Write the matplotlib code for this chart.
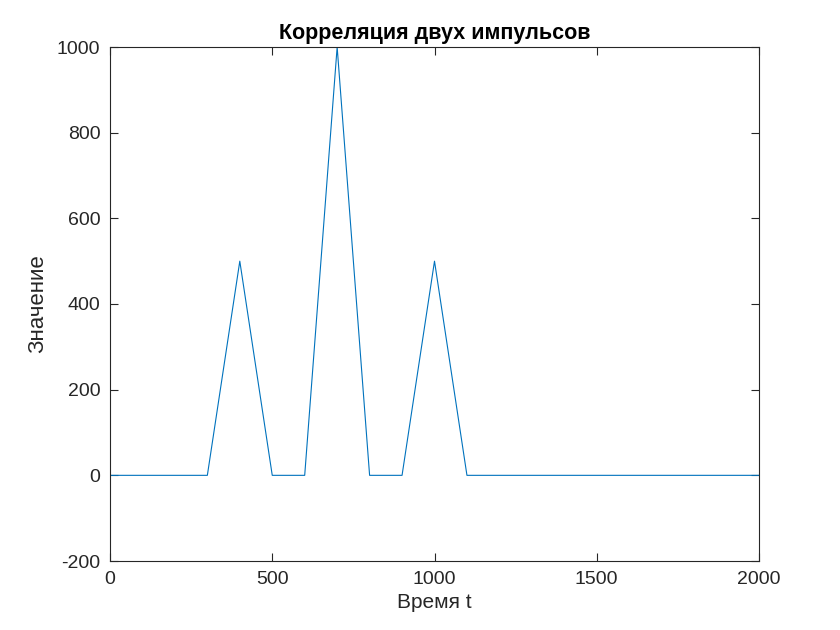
import matplotlib
matplotlib.use("Agg")
import matplotlib.pyplot as plt

# Data (breakpoints of the piecewise-linear correlation curve)
t = [0, 300, 400, 500, 600, 700, 800, 900, 1000, 1100, 2000]
values = [0, 0, 500, 0, 0, 1000, 0, 0, 500, 0, 0]

xticks = [0, 500, 1000, 1500, 2000]
yticks = [-200, 0, 200, 400, 600, 800, 1000]

plt.rcParams['font.family'] = ['Liberation Sans', 'DejaVu Sans']
plt.rcParams['axes.unicode_minus'] = False

fig = plt.figure(figsize=(8.4, 6.3), dpi=100)
ax = fig.add_axes([110/840, 1-561/630, (759-110)/840, (561-47)/630])

ax.plot(t, values, color='#0072BD', linewidth=0.8)

ax.set_xlim(0, 2000)
ax.set_ylim(-200, 1000)
ax.set_xticks(xticks)
ax.set_yticks(yticks)

dark = '#262626'
ax.tick_params(direction='in', top=True, right=True, length=6, width=0.8,
               colors=dark, labelsize=14, pad=7)
for s in ax.spines.values():
    s.set_color(dark)
    s.set_linewidth(0.8)

ax.set_title('Корреляция двух импульсов', fontsize=15.5, fontweight='bold', pad=6)
ax.set_xlabel('Время t', fontsize=15, color=dark, labelpad=4)
ax.set_ylabel('Значение', fontsize=16, color=dark, va='center')
ax.yaxis.set_label_coords(-0.112, 0.5)

fig.savefig('out.png', dpi=100, facecolor='white')
